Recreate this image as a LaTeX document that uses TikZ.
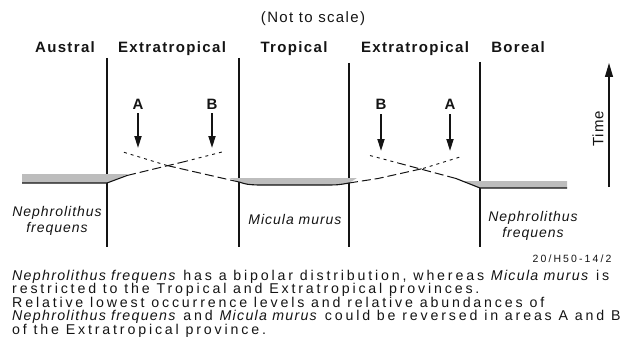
\documentclass[tikz,border=0pt]{standalone}
\usepackage{fontspec}
\setmainfont{Liberation Sans}
\newfontfamily\hdrfont{Liberation Sans}[LetterSpace=9]
\newfontfamily\taxfont{Liberation Sans}[LetterSpace=7]
\newfontfamily\capfont{Liberation Sans}[LetterSpace=20,ItalicFeatures={LetterSpace=9}]
\usepackage{tikz}
\usetikzlibrary{arrows.meta}
\definecolor{ink}{HTML}{141414}
\definecolor{stipple}{HTML}{BDBDBD}
\tikzset{
  hdr/.style={font=\hdrfont\fontsize{15}{17}\selectfont\bfseries,text=ink,inner sep=1pt},
  area/.style={font=\fontsize{15}{17}\selectfont\bfseries,text=ink,inner sep=1pt},
  taxon/.style={font=\taxfont\fontsize{14}{16}\selectfont\itshape,text=ink,align=center,inner sep=1pt},
  note/.style={font=\capfont\fontsize{14.2}{13.5}\selectfont,text=ink,align=left,inner sep=0pt},
  border/.style={draw=ink,line width=1.2pt},
  base/.style={draw=ink,line width=1.1pt},
  longdash/.style={draw=ink,line width=1pt,dash pattern=on 9pt off 4pt},
  shortdash/.style={draw=ink,line width=0.9pt,dash pattern=on 3pt off 4pt},
  band/.style={fill=stipple},
  down/.style={-{Triangle[length=12pt,width=7pt]},line width=1.7pt,draw=ink,shorten <=3pt},
}
\begin{document}
\begin{tikzpicture}[x=1pt,y=-1pt]
  \useasboundingbox (0,0) rectangle (632,353);
  \node[font=\hdrfont\fontsize{15}{17}\selectfont,text=ink,anchor=base] (nts) at (313,23) {(Not to scale)};
  % provinces
  \node[hdr,anchor=base] (aus) at (65,53) {Austral};
  \node[hdr,anchor=base] (ext1) at (172,53) {Extratropical};
  \node[hdr,anchor=base] (trop) at (294,53) {Tropical};
  \node[hdr,anchor=base] (ext2) at (415,53) {Extratropical};
  \node[hdr,anchor=base] (bor) at (518,53) {Boreal};
  \foreach \x/\t in {107/58,239/58,349/63,480/62}
    \draw[border] (\x,\t) -- (\x,247);
  % abundance bands
  \fill[band] (22,174) -- (128,174) -- (107,183) -- (22,183) -- cycle;
  \fill[band] (229,178) -- (357,178) -- (349,183) .. controls (338,185) .. (322,185) -- (258,185) .. controls (247,184.5) .. (239,182) -- cycle;
  \fill[band] (462,181) -- (567,181) -- (567,188) -- (480,188) -- cycle;
  % Nephrolithus
  \draw[base] (22,183) -- (107,183) -- (127,175.5);
  \draw[longdash] (127,175.5) -- (185,161.5);
  \draw[shortdash] (185,161.5) -- (222,152);
  \draw[base] (567,188) -- (480,188) -- (456,178.5);
  \draw[longdash] (456,178.5) -- (400,163.5);
  \draw[shortdash] (400,163.5) -- (368,155);
  % Micula
  \draw[base] (239,182) .. controls (247,184.5) .. (258,185) -- (322,185) .. controls (338,185) .. (349,183);
  \draw[longdash] (239,182) -- (167,165.5);
  \draw[shortdash] (167,165.5) -- (123,152);
  \draw[longdash] (349,183) -- (378,178.5) -- (423,168.5);
  \draw[shortdash] (423,168.5) -- (460,157);
  % areas A and B
  \node[area,anchor=base] (a1) at (138,109) {A};
  \node[area,anchor=base] (b1) at (212,109) {B};
  \node[area,anchor=base] (b2) at (381,110) {B};
  \node[area,anchor=base] (a2) at (450,110) {A};
  \coordinate (ta1) at (138,148);
  \coordinate (tb1) at (212,148);
  \coordinate (tb2) at (381,151);
  \coordinate (ta2) at (450,151);
  \draw[down] (a1) -- (ta1);
  \draw[down] (b1) -- (tb1);
  \draw[down] (b2) -- (tb2);
  \draw[down] (a2) -- (ta2);
  % time axis
  \coordinate (t0) at (609,187);
  \coordinate (t1) at (609,63);
  \draw[-{Triangle[length=14pt,width=8pt]},line width=1.1pt,draw=ink] (t0) -- (t1);
  \node[font=\taxfont\fontsize{15}{17}\selectfont,text=ink,rotate=90] (time) at (598,129) {Time};
  % taxa
  \node[taxon,anchor=north] (nephL) at (57,205) {Nephrolithus\\frequens};
  \node[taxon,anchor=base] (mic) at (295,224) {Micula murus};
  \node[taxon,anchor=north] (nephR) at (533,210) {Nephrolithus\\frequens};
  \node[font=\capfont\fontsize{10.5}{12}\selectfont,text=ink,anchor=base east] (ref) at (615,262) {20/H50-14/2};
  \node[note,anchor=north west] (cap) at (12,270) {\textit{Nephrolithus frequens} has a bipolar distribution, whereas \textit{Micula murus} is\\
    restricted to the Tropical and Extratropical provinces.\\
    Relative lowest occurrence levels and relative abundances of\\
    \textit{Nephrolithus frequens} and \textit{Micula murus} could be reversed in areas A and B\\
    of the Extratropical province.};
\end{tikzpicture}
\end{document}
